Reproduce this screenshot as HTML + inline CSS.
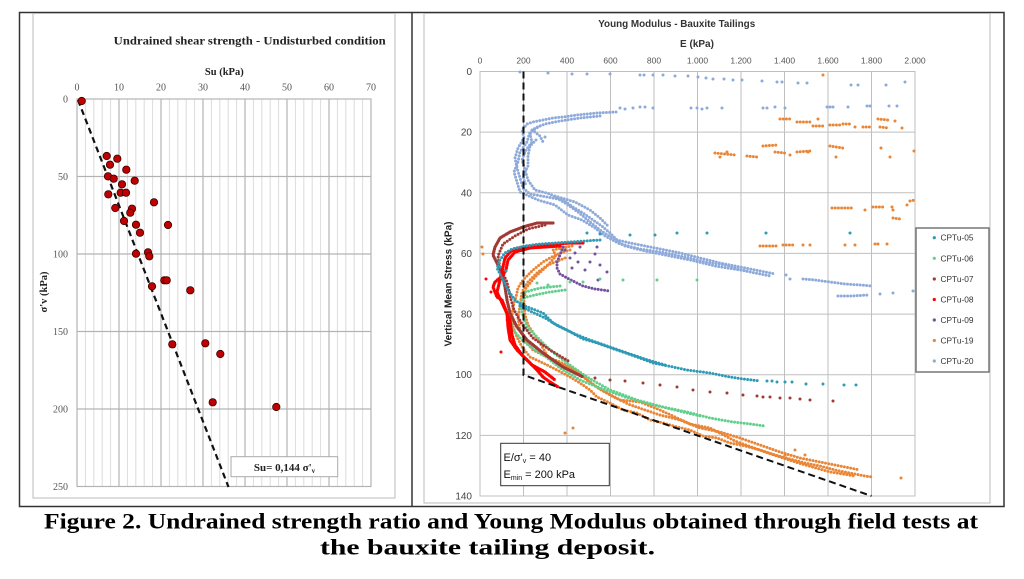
<!DOCTYPE html>
<html><head><meta charset="utf-8"><style>
html,body{margin:0;padding:0;background:#fff;}
svg{display:block;}
.d{fill:none;stroke-linecap:round;stroke-dasharray:0 3.2;stroke-width:3;}
.dd{fill:none;stroke-linecap:round;stroke-dasharray:0 1.8;stroke-width:3.2;}
.p{fill:none;stroke-linecap:round;stroke-width:3;}
.ser{font-family:"Liberation Serif",serif;}
.san{font-family:"Liberation Sans",sans-serif;}
</style></head><body>
<svg width="1024" height="579" viewBox="0 0 1024 579" xmlns="http://www.w3.org/2000/svg">
<rect width="1024" height="579" fill="#fff"/>
<!-- outer frames -->
<rect x="19.5" y="12.5" width="984.5" height="494" fill="none" stroke="#333" stroke-width="1.5"/>
<line x1="412" y1="12" x2="412" y2="507" stroke="#333" stroke-width="1.5"/>
<rect x="33" y="13.5" width="362" height="484.5" fill="none" stroke="#bbb" stroke-width="1"/>
<rect x="424" y="13.5" width="566" height="489.5" fill="none" stroke="#bbb" stroke-width="1"/>

<!-- ============ LEFT CHART ============ -->
<g stroke="#dcdcdc" stroke-width="1">
<line x1="85.4" y1="99" x2="85.4" y2="486.5"/><line x1="93.8" y1="99" x2="93.8" y2="486.5"/><line x1="102.2" y1="99" x2="102.2" y2="486.5"/><line x1="110.6" y1="99" x2="110.6" y2="486.5"/>
<line x1="127.4" y1="99" x2="127.4" y2="486.5"/><line x1="135.8" y1="99" x2="135.8" y2="486.5"/><line x1="144.2" y1="99" x2="144.2" y2="486.5"/><line x1="152.6" y1="99" x2="152.6" y2="486.5"/>
<line x1="169.4" y1="99" x2="169.4" y2="486.5"/><line x1="177.8" y1="99" x2="177.8" y2="486.5"/><line x1="186.2" y1="99" x2="186.2" y2="486.5"/><line x1="194.6" y1="99" x2="194.6" y2="486.5"/>
<line x1="211.4" y1="99" x2="211.4" y2="486.5"/><line x1="219.8" y1="99" x2="219.8" y2="486.5"/><line x1="228.2" y1="99" x2="228.2" y2="486.5"/><line x1="236.6" y1="99" x2="236.6" y2="486.5"/>
<line x1="253.4" y1="99" x2="253.4" y2="486.5"/><line x1="261.8" y1="99" x2="261.8" y2="486.5"/><line x1="270.2" y1="99" x2="270.2" y2="486.5"/><line x1="278.6" y1="99" x2="278.6" y2="486.5"/>
<line x1="295.4" y1="99" x2="295.4" y2="486.5"/><line x1="303.8" y1="99" x2="303.8" y2="486.5"/><line x1="312.2" y1="99" x2="312.2" y2="486.5"/><line x1="320.6" y1="99" x2="320.6" y2="486.5"/>
<line x1="337.4" y1="99" x2="337.4" y2="486.5"/><line x1="345.8" y1="99" x2="345.8" y2="486.5"/><line x1="354.2" y1="99" x2="354.2" y2="486.5"/><line x1="362.6" y1="99" x2="362.6" y2="486.5"/>
</g>
<g stroke="#b3b3b3" stroke-width="1.2">
<line x1="119" y1="99" x2="119" y2="486.5"/><line x1="161" y1="99" x2="161" y2="486.5"/><line x1="203" y1="99" x2="203" y2="486.5"/><line x1="245" y1="99" x2="245" y2="486.5"/><line x1="287" y1="99" x2="287" y2="486.5"/><line x1="329" y1="99" x2="329" y2="486.5"/>
<line x1="77" y1="176.5" x2="371" y2="176.5"/><line x1="77" y1="254" x2="371" y2="254"/><line x1="77" y1="331.5" x2="371" y2="331.5"/><line x1="77" y1="409" x2="371" y2="409"/>
<rect x="77" y="99" width="294" height="387.5" fill="none"/>
</g>
<text class="ser" x="249.7" y="44.5" font-size="11.5" font-weight="bold" fill="#222" text-anchor="middle" textLength="272" lengthAdjust="spacingAndGlyphs">Undrained shear strength - Undisturbed condition</text>
<text class="ser" x="224.3" y="75" font-size="10.5" font-weight="bold" fill="#222" text-anchor="middle">Su (kPa)</text>
<g class="ser" font-size="10" fill="#555" text-anchor="middle">
<text x="77" y="90.5">0</text><text x="119" y="90.5">10</text><text x="161" y="90.5">20</text><text x="203" y="90.5">30</text><text x="245" y="90.5">40</text><text x="287" y="90.5">50</text><text x="329" y="90.5">60</text><text x="371" y="90.5">70</text>
</g>
<g class="ser" font-size="10" fill="#555" text-anchor="end">
<text x="68" y="102.5">0</text><text x="68" y="180">50</text><text x="68" y="257.5">100</text><text x="68" y="335">150</text><text x="68" y="412.5">200</text><text x="68" y="490">250</text>
</g>
<text class="ser" transform="translate(47,292) rotate(-90)" font-size="10.5" font-weight="bold" fill="#222" text-anchor="middle">σ'v (kPa)</text>
<line x1="78" y1="100" x2="228.5" y2="487" stroke="#111" stroke-width="2.2" stroke-dasharray="6,4"/>
<g fill="#c00000" stroke="#3a0000" stroke-width="0.8">
<circle cx="81.7" cy="101" r="3.7"/><circle cx="106.7" cy="156" r="3.7"/><circle cx="117.3" cy="158.7" r="3.7"/><circle cx="110" cy="164.7" r="3.7"/><circle cx="126.3" cy="169.7" r="3.7"/><circle cx="108" cy="176.3" r="3.7"/><circle cx="113.7" cy="178.7" r="3.7"/><circle cx="134.7" cy="180.7" r="3.7"/><circle cx="122" cy="184.3" r="3.7"/><circle cx="120.7" cy="192.7" r="3.7"/><circle cx="126" cy="192.7" r="3.7"/><circle cx="108.3" cy="194.3" r="3.7"/><circle cx="154" cy="202.3" r="3.7"/><circle cx="115.3" cy="208" r="3.7"/><circle cx="132" cy="208.7" r="3.7"/><circle cx="130.3" cy="212.7" r="3.7"/><circle cx="124" cy="221" r="3.7"/><circle cx="136" cy="224.7" r="3.7"/><circle cx="168" cy="225" r="3.7"/><circle cx="140" cy="232.7" r="3.7"/><circle cx="136" cy="253.7" r="3.7"/><circle cx="148" cy="252.3" r="3.7"/><circle cx="149.3" cy="256.3" r="3.7"/><circle cx="164.3" cy="280.3" r="3.7"/><circle cx="166.7" cy="280.3" r="3.7"/><circle cx="152" cy="286.3" r="3.7"/><circle cx="190.3" cy="290.3" r="3.7"/><circle cx="172.3" cy="344.3" r="3.7"/><circle cx="205.3" cy="343.3" r="3.7"/><circle cx="220.3" cy="354" r="3.7"/><circle cx="212.7" cy="402.3" r="3.7"/><circle cx="276.3" cy="407" r="3.7"/>
</g>
<rect x="231" y="456.7" width="106.7" height="20" fill="#fff" stroke="#aaa" stroke-width="1"/>
<text class="ser" x="284.5" y="471" font-size="11" font-weight="bold" fill="#222" text-anchor="middle">Su= 0,144 σ'<tspan font-size="7" dy="2">v</tspan></text>

<!-- ============ RIGHT CHART ============ -->
<g stroke="#bfbfbf" stroke-width="1">
<line x1="523.5" y1="71.5" x2="523.5" y2="496"/><line x1="567" y1="71.5" x2="567" y2="496"/><line x1="610.5" y1="71.5" x2="610.5" y2="496"/><line x1="654" y1="71.5" x2="654" y2="496"/><line x1="697.5" y1="71.5" x2="697.5" y2="496"/><line x1="741" y1="71.5" x2="741" y2="496"/><line x1="784.5" y1="71.5" x2="784.5" y2="496"/><line x1="828" y1="71.5" x2="828" y2="496"/><line x1="871.5" y1="71.5" x2="871.5" y2="496"/>
<line x1="480" y1="132.1" x2="915" y2="132.1"/><line x1="480" y1="192.8" x2="915" y2="192.8"/><line x1="480" y1="253.4" x2="915" y2="253.4"/><line x1="480" y1="314.1" x2="915" y2="314.1"/><line x1="480" y1="374.7" x2="915" y2="374.7"/><line x1="480" y1="435.4" x2="915" y2="435.4"/>
<rect x="480" y="71.5" width="435" height="424.5" fill="none"/>
</g>
<text class="san" x="676.7" y="27" font-size="10" font-weight="bold" fill="#333" text-anchor="middle" textLength="157" lengthAdjust="spacingAndGlyphs">Young Modulus - Bauxite Tailings</text>
<text class="san" x="697" y="47" font-size="10" font-weight="bold" fill="#333" text-anchor="middle">E (kPa)</text>
<g class="san" font-size="8.5" fill="#555" text-anchor="middle">
<text x="480" y="63.5">0</text><text x="523.5" y="63.5">200</text><text x="567" y="63.5">400</text><text x="610.5" y="63.5">600</text><text x="654" y="63.5">800</text><text x="697.5" y="63.5">1.000</text><text x="741" y="63.5">1.200</text><text x="784.5" y="63.5">1.400</text><text x="828" y="63.5">1.600</text><text x="871.5" y="63.5">1.800</text><text x="915" y="63.5">2.000</text>
</g>
<g class="san" font-size="10" fill="#444" text-anchor="end">
<text x="472" y="75">0</text><text x="472" y="135.6">20</text><text x="472" y="196.3">40</text><text x="472" y="256.9">60</text><text x="472" y="317.6">80</text><text x="472" y="378.2">100</text><text x="472" y="438.9">120</text><text x="472" y="499.5">140</text>
</g>
<text class="san" transform="translate(451.5,284) rotate(-90)" font-size="10" font-weight="bold" fill="#222" text-anchor="middle" textLength="125" lengthAdjust="spacingAndGlyphs">Vertical Mean Stress (kPa)</text>

<!-- CPTu-20 light blue -->
<g stroke="#8eaadb">
<path class="p" d="M520,72h0M548,73h0M572,74h0M587,74h0M610,74h0M640,75h0M644,75h0M653,75h0M663,75h0M675,76h0M688,76h0M698,77h0M706,78h0M713,79h0M724,79h0M733,80h0M742,80h0M762,81h0M777,82h0M782,82h0M798,83h0M807,83h0M851,85h0M858,85h0M886,85h0M905,82h0"/>
<path class="p" d="M620,108h0M625,109h0M633,108h0M640,107h0M645,107h0M653,108h0M691,108h0M697,108h0M702,109h0M707,108h0M722,108h0M763,108h0M767,108h0M775,107h0M785,108h0M827,107h0M830,107h0M833,107h0M848,107h0M867,106h0M870,106h0M889,106h0M897,106h0"/>
<path class="d" d="M616,112 L597,113 L577,115 L563,117 L553,118 L543,120 L533,122 L527,124 L522,130 L524,138 L518,148 L515,158 L517,168 L520,178 L523,188 L530,194 L547,197 L563,200 L573,207 L583,213 L593,220 L603,227 L610,233 L617,240 L630,243 L650,247 L665,250 L680,253 L700,258 L720,263 L740,267 L760,271 L775,274"/>
<path class="d" d="M600,116 L580,118 L560,121 L545,124 L535,128 L530,134 L532,142 L526,150 L522,160 L525,170 L528,180 L535,190 L550,194 L565,203 L578,212 L590,222 L600,230 L612,238 L625,246 L645,251 L665,255 L690,260 L715,266 L740,270 L770,276"/>
<path class="d" d="M540,126 L530,132 L527,142 L520,152 L518,162 L514,172 L517,182 L520,192 L538,200 L555,205 L568,215 L582,220 L595,228 L605,236 L620,244 L640,249 L660,252 L685,257 L705,262 L725,265 L750,272"/>
<path class="d" d="M536,140 L530,146 L528,156 L528,166 L523,176 L526,186 M532,130 L540,136 L543,142 M555,196 L575,202 L590,210 L600,218 L608,226"/>
<path class="d" d="M803,279 L815,280 L830,282 L845,284 L860,285 L872,286 M838,296 L852,296 L868,295"/>
<path class="p" d="M880,294h0M893,293h0M913,291h0M545,137h0M786,275h0M790,279h0"/>
</g>
<!-- CPTu-19 orange -->
<g stroke="#ea8535">
<path class="d" d="M780,119 L792,119 M797,122 L810,122 M813,126 L823,126 M830,125 L840,125 M843,124 L852,124 M863,127 L870,127 M878,119 L888,120 M880,127 L888,128"/>
<path class="p" d="M818,119h0M855,127h0M895,121h0M902,128h0M823,75h0"/>
<path class="d" d="M715,153 L735,155 M747,156 L757,157 M763,146 L777,145 M797,152 L810,151 M775,152 L785,153 M830,146 L843,148"/>
<path class="p" d="M790,155h0M808,152h0M836,157h0M881,148h0M890,157h0M914,151h0M720,157h0M727,152h0"/>
<path class="d" d="M832,208 L853,208 M873,207 L883,207 M893,218 L900,219 M910,201 L915,200"/>
<path class="p" d="M865,210h0M892,207h0M893,210h0M907,205h0"/>
<path class="d" d="M760,246 L777,246 M783,245 L793,245"/>
<path class="p" d="M803,245h0M810,245h0M845,245h0M855,245h0M875,244h0M878,244h0M887,244h0M482,247h0M483,254h0"/>
<path class="d" d="M570,250 L560,253 L550,258 L543,262 L533,270 L523,280 L518,288 L516,297 L513,307 L512,317 L513,327 L517,337 L522,347 L530,357 L543,363 L557,370 L570,377 L580,383 L590,390 L597,397 L610,403 L623,410 L637,413 L650,420 L663,423 L677,427 L690,430 L703,436 L717,438 L730,443 L745,446 L760,450 L775,455 L790,459 L805,463 L820,466 L835,470 L850,473 L865,476 L872,477"/>
<path class="d" d="M565,258 L548,265 L538,272 L528,282 L522,292 L520,305 L518,318 L520,330 L525,340 L533,350 L545,356 L560,362 L575,370 L585,378 L598,388 L612,396 L628,404 L645,410 L660,415 L680,420 L700,428 L720,432 L740,438 L760,445 L780,452 L800,458 L820,462 L840,466 L860,470"/>
<path class="d" d="M572,246 L562,248 L553,250 L556,256 L545,268 L536,276 L526,288 L524,300 L525,315 L528,325 L538,340 L550,360 L565,366 L580,374 L592,384 L605,392 L620,400 L640,402 L660,410 L690,424 L710,428 L735,441 L765,452 L795,462 L830,472 L855,476"/>
<path class="p" d="M901,478h0M785,455h0M795,450h0M805,455h0M565,433h0M573,428h0"/>
</g>
<!-- CPTu-09 purple -->
<g stroke="#7450a0">
<path class="d" d="M563,247 L560,255 L557,262 L557,268 L560,274 L567,278 L575,282 L583,286 L595,289 L610,291"/>
<path class="p" d="M580,247h0M597,247h0M575,253h0M595,254h0M578,262h0M590,262h0M600,265h0M607,272h0M570,258h0M565,250h0M572,268h0M585,270h0M598,280h0"/>
</g>
<!-- CPTu-06 green -->
<g stroke="#62cf8d">
<path class="d" d="M565,290 L550,292 L535,295 L523,298 L520,305 L523,315 L527,327 L537,337 L550,350 L567,363 L587,377 L610,390 L637,400 L663,407 L687,412 L710,418 L733,422 L750,424 L765,426"/>
<path class="d" d="M560,286 L540,288 L525,292 M510,322 L515,332 L522,340 L532,348 L545,356 L560,368 L580,380 L600,388 L625,397 L650,404 L675,410 L700,416"/>
<path class="p" d="M600,279h0M623,280h0M657,280h0M697,280h0M537,283h0M548,285h0M570,282h0M583,282h0M507,320h0M512,326h0"/>
</g>
<!-- CPTu-07 brown -->
<g stroke="#a03a35">
<path class="dd" d="M553,223 L537,223 L523,227 L510,232 L500,238 L495,247 L493,255 L497,263 L502,273 L505,287 L507,300 L510,313 L517,327 L527,340 L543,353 L563,367 L583,377"/>
<path class="d" d="M545,225 L528,229 L515,236 L503,244 L498,256 L500,268 L507,282 L510,296 L514,310 L522,324 L533,338 L550,350 L570,362"/>
<path class="p" d="M595,378h0M610,380h0M625,381h0M643,383h0M660,385h0M677,387h0M693,390h0M710,392h0M727,393h0M743,395h0M757,396h0M763,397h0M770,397h0M780,398h0M790,398h0M800,399h0M810,400h0M833,401h0"/>
</g>
<!-- CPTu-08 red -->
<g stroke="#ff0000">
<path class="dd" d="M583,243 L570,243 L555,244 L540,245 L523,247 L515,249 L510,252 L505,258 L503,267 L501,277 L495,282 L493,287 L497,297 L502,300 L507,313 L508,327 L510,340 L517,350 L527,360 L537,370 L543,377 L550,382 L558,387"/>
<path class="dd" d="M560,246 L530,248 L515,252 L508,260 L506,270 L500,280 L497,292 L503,305 L510,320 L512,335 L515,345 L522,355 L532,365 L545,372 L555,380"/>
<path class="p" d="M486,279h0M501,352h0M491,292h0"/>
</g>
<!-- CPTu-05 teal -->
<g stroke="#2e9ab6">
<path class="d" d="M600,240 L585,241 L570,242 L555,243 L540,244 L525,246 L512,249 L505,253 L500,260 L497,268 L502,278 L508,290 L515,300 L522,305 L530,308 L543,313 L553,323 L567,330 L583,339 L597,343 L617,350 L637,357 L653,363 L673,367 L687,370 L710,373 L730,377 L743,379 L760,381"/>
<path class="d" d="M520,306 L532,312 L545,318 L558,326 L575,334 L590,340 L610,347 L630,354 L648,360 L665,365"/>
<path class="p" d="M587,233h0M600,234h0M630,235h0M655,235h0M677,233h0M707,233h0M766,233h0M850,233h0M767,381h0M772,381h0M777,382h0M785,382h0M792,382h0M806,384h0M823,384h0M844,385h0M856,385h0M500,267h0M506,271h0"/>
</g>
<!-- dashed reference -->
<path d="M523.5,71.5 L523.5,375 L871.5,496" fill="none" stroke="#111" stroke-width="2" stroke-dasharray="7,4"/>

<!-- annotation box -->
<rect x="500.7" y="443.3" width="108.6" height="42.4" fill="#fff" stroke="#333" stroke-width="1"/>
<text class="san" x="503.5" y="461" font-size="11" fill="#111">E/σ'<tspan font-size="7" dy="2">v</tspan><tspan dy="-2"> = 40</tspan></text>
<text class="san" x="503.5" y="478" font-size="11" fill="#111">E<tspan font-size="7" dy="2">min</tspan><tspan dy="-2"> = 200 kPa</tspan></text>

<!-- legend -->
<rect x="916" y="228" width="73" height="144" fill="#fff" stroke="#777" stroke-width="1.5"/>
<g class="san" font-size="8.5" fill="#333">
<circle cx="934.3" cy="237.7" r="1.6" fill="#2e9ab6"/><text x="940.5" y="240.7" textLength="33" lengthAdjust="spacingAndGlyphs">CPTu-05</text>
<circle cx="934.3" cy="258.3" r="1.6" fill="#62cf8d"/><text x="940.5" y="261.3" textLength="33" lengthAdjust="spacingAndGlyphs">CPTu-06</text>
<circle cx="934.3" cy="279" r="1.6" fill="#a03a35"/><text x="940.5" y="282" textLength="33" lengthAdjust="spacingAndGlyphs">CPTu-07</text>
<circle cx="934.3" cy="299.5" r="1.6" fill="#ff0000"/><text x="940.5" y="302.5" textLength="33" lengthAdjust="spacingAndGlyphs">CPTu-08</text>
<circle cx="934.3" cy="320" r="1.6" fill="#7450a0"/><text x="940.5" y="323" textLength="33" lengthAdjust="spacingAndGlyphs">CPTu-09</text>
<circle cx="934.3" cy="340.5" r="1.6" fill="#ea8535"/><text x="940.5" y="343.5" textLength="33" lengthAdjust="spacingAndGlyphs">CPTu-19</text>
<circle cx="934.3" cy="361" r="1.6" fill="#8eaadb"/><text x="940.5" y="364" textLength="33" lengthAdjust="spacingAndGlyphs">CPTu-20</text>
</g>

<!-- caption -->
<text class="ser" x="44" y="528.5" font-size="22" font-weight="bold" fill="#000" textLength="934" lengthAdjust="spacingAndGlyphs">Figure 2. Undrained strength ratio and Young Modulus obtained through field tests at</text>
<text class="ser" x="320" y="554.5" font-size="22" font-weight="bold" fill="#000" textLength="335" lengthAdjust="spacingAndGlyphs">the bauxite tailing deposit.</text>
</svg>
</body></html>
